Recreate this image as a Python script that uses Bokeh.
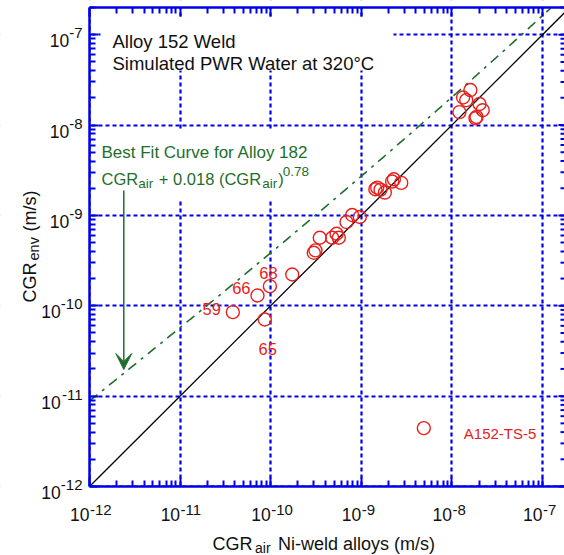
import math
import numpy as np
from bokeh.plotting import figure
from bokeh.models import (LogAxis, FixedTicker, Label, BoxAnnotation, Arrow, VeeHead,
                          Range1d, CustomJSTickFormatter)
from bokeh.embed import file_html
from bokeh.resources import INLINE

# ---------------- data ----------------
cgr_air = [3.82e-11, 8.6e-11, 7.15e-11, 9.8e-11, 1.73e-10, 2.99e-10, 3.12e-10, 3.48e-10,
           4.77e-10, 5.33e-10, 5.65e-10, 6.87e-10, 7.93e-10, 9.63e-10,
           1.43e-9, 1.50e-9, 1.63e-9, 1.82e-9, 2.19e-9, 2.29e-9, 2.76e-9,
           1.21e-8, 1.33e-8, 1.44e-8, 1.60e-8, 2.02e-8, 2.19e-8, 1.82e-8, 1.87e-8,
           4.9e-9]
cgr_env = [8.5e-11, 7.05e-11, 1.30e-10, 1.65e-10, 2.22e-10, 3.86e-10, 4.10e-10, 5.66e-10,
           5.66e-10, 6.27e-10, 5.66e-10, 8.45e-10, 1.01e-9, 9.6e-10,
           1.95e-9, 2.03e-9, 1.93e-9, 1.79e-9, 2.37e-9, 2.51e-9, 2.29e-9,
           1.39e-8, 2.02e-8, 1.89e-8, 2.44e-8, 1.71e-8, 1.46e-8, 1.19e-8, 1.23e-8,
           4.43e-12]
point_labels = ["59", "65", "66", "68", "A152-TS-5"]
label_air = [3.82e-11, 8.6e-11, 7.15e-11, 9.8e-11, 4.9e-9]
label_env = [8.5e-11, 7.05e-11, 1.30e-10, 1.65e-10, 4.43e-12]

tick_exps = [-12, -11, -10, -9, -8, -7]
fit_coef = 0.018
fit_power = 0.78

# ---------------- layout / style ----------------
BLUE = "#0000e8"
RED = "#e8201c"
GREEN = "#1e6e2c"
BLACK = "#111111"
FONT = "Liberation Sans"

W, H = 564, 555
XLO, XHI = 1e-12, 1.75e-7        # axes limits
YLO, YHI = 1e-12, 2e-7
FL, FR, FT, FB = 89, 564, 7, 486  # axes box in canvas pixels

KX = (math.log10(XHI) - math.log10(XLO)) / (FR - FL)
KY = (math.log10(YHI) - math.log10(YLO)) / (FB - FT)

def xd(px):
    return 10 ** (math.log10(XLO) + (px - FL) * KX)

def yd(py):
    return 10 ** (math.log10(YLO) + (FB - py) * KY)

def xp(v):
    return FL + (math.log10(v) - math.log10(XLO)) / KX

def yp(v):
    return FB - (math.log10(v) - math.log10(YLO)) / KY

p = figure(width=W, height=H, x_axis_type="log", y_axis_type="log",
           x_range=Range1d(xd(0), xd(W)), y_range=Range1d(yd(H), yd(0)),
           output_backend="svg", toolbar_location=None,
           min_border_left=0, min_border_right=0, min_border_top=0, min_border_bottom=0)
p.title.visible = False
p.outline_line_color = None
p.background_fill_color = "white"
p.border_fill_color = "white"

decades = [10.0 ** e for e in tick_exps]
minors = [m * 10.0 ** e for e in range(-12, -6) for m in range(2, 10)]

def style_axis(ax, loc, bounds, show_line=True):
    ax.fixed_location = loc
    ax.bounds = bounds
    ax.ticker = FixedTicker(ticks=decades, minor_ticks=minors)
    ax.formatter = CustomJSTickFormatter(code="return '';")
    ax.major_label_text_font_size = "1px"
    ax.major_label_standoff = 0
    ax.axis_label = None
    ax.axis_line_color = BLUE if show_line else None
    ax.axis_line_width = 2.5
    ax.major_tick_line_color = BLUE
    ax.major_tick_line_width = 2
    ax.minor_tick_line_color = BLUE
    ax.minor_tick_line_width = 2
    ax.major_tick_in = 9
    ax.major_tick_out = 0
    ax.minor_tick_in = 6
    ax.minor_tick_out = 0

style_axis(p.below[0], YLO, (XLO, XHI))
style_axis(p.left[0], XLO, (YLO, YHI))
top_ax = LogAxis()
style_axis(top_ax, YHI, (XLO, XHI))
p.add_layout(top_ax, "above")

for g in (p.xgrid[0], p.ygrid[0]):
    g.ticker = FixedTicker(ticks=decades)
    g.grid_line_color = BLUE
    g.grid_line_width = 2.2
    g.grid_line_dash = "4 3"

def white_box(l, r, t, b, level="underlay"):
    p.add_layout(BoxAnnotation(left=l, right=r, top=t, bottom=b, fill_color="white",
                               fill_alpha=1, line_color=None, level=level))

# blank the grid outside the axes box
white_box(xd(-30), xd(W + 30), YLO, yd(H + 30))
white_box(xd(-30), XLO, yd(-30), yd(H + 30))
white_box(xd(-30), xd(W + 30), yd(-30), YHI)
# white backgrounds behind the annotation texts (hide grid)
white_box(xd(100), xd(393), yd(18), yd(70))
white_box(xd(98), xd(312), yd(129), yd(199))
# clean left edge strip
white_box(xd(-30), xd(11), yd(-30), yd(H + 30), level="annotation")

# right-hand inward ticks (the right spine itself lies just outside the picture)
p.segment(x0=[xd(FR - 6)] * len(decades), y0=decades, x1=[XHI] * len(decades), y1=decades,
          line_color=BLUE, line_width=2)
p.segment(x0=[xd(FR - 4)] * len(minors), y0=minors, x1=[XHI] * len(minors), y1=minors,
          line_color=BLUE, line_width=2)

# 1:1 line
p.line([XLO, YHI], [YLO, YHI], line_color="black", line_width=1.3)

# best-fit curve for Alloy 182
fx = np.logspace(-12, math.log10(YHI), 400)
fy = fx + fit_coef * fx ** fit_power
keep = fy <= YHI
p.line(fx[keep], fy[keep], line_color=GREEN, line_width=1.6, line_dash="10 6 3 6")

# data points
p.scatter(cgr_air, cgr_env, size=13, marker="circle", fill_color=None,
          line_color=RED, line_width=1.4)

def lab(x, y, text, size, color=BLACK, align="left", angle=0.0):
    p.add_layout(Label(x=x, y=y, text=text, text_font=FONT, text_font_size=f"{size}px",
                       text_color=color, text_align=align, text_baseline="alphabetic",
                       angle=angle))

# point labels (offsets in pixels from the point)
lab_off = {"59": (-12, -2.7, "right"), "65": (3, 30, "center"),
           "66": (-7, -7.6, "right"), "68": (-1.5, -13.3, "center"),
           "A152-TS-5": (40, 5, "left")}
for t, ax_, ay_ in zip(point_labels, label_air, label_env):
    dx, dy, al = lab_off[t]
    lab(xd(xp(ax_) + dx), yd(yp(ay_) + dy), t, 15 if len(t) > 3 else 16.5, RED, al)

# tick labels
EXPF = 15
for e in tick_exps:
    es = str(e)
    wexp = EXPF * (0.333 + 0.556 * (len(es) - 1))
    ty = yp(10.0 ** e)
    lab(xd(82 - wexp), yd(ty + 6), "10", 17.5, align="right")
    lab(xd(82), yd(ty - 1.5), es, EXPF, align="right")
    tx = xp(10.0 ** e)
    lab(10.0 ** e, yd(514), "10", 17.5, align="right")
    lab(xd(tx + 0.5), yd(509.5), es, EXPF, align="left")

# title block
lab(xd(112), yd(40.7), "Alloy 152 Weld", 18.5)
lab(xd(112), yd(63.3), "Simulated PWR Water at 320\u00b0C", 18.5)

# best fit text
lab(xd(101), yd(151.7), "Best Fit Curve for Alloy 182", 17, GREEN)
lab(xd(101), yd(178.3), "CGR", 16.5, GREEN)
lab(xd(137.7), yd(183.3), "air", 13.5, GREEN)
lab(xd(158.3), yd(178.3), "+ 0.018 (CGR", 16.5, GREEN)
lab(xd(261.7), yd(183.3), "air", 13.5, GREEN)
lab(xd(277.7), yd(178.3), ")", 16.5, GREEN)
lab(xd(282.3), yd(170.7), "0.78", 13.5, GREEN)

p.add_layout(Arrow(end=VeeHead(size=16, fill_color=GREEN, line_color=GREEN, line_width=1),
                   x_start=xd(123.3), y_start=yd(190), x_end=xd(123.3), y_end=yd(369),
                   line_color=GREEN, line_width=1.5))

# axis titles
lab(xd(212), yd(543), "CGR", 18)
lab(xd(254.5), yd(547), "air", 14)
lab(xd(277.5), yd(543), "Ni-weld alloys (m/s)", 18)

lab(xd(29.5), yd(302), "CGR", 18, angle=math.pi / 2)
lab(xd(33.5), yd(260), "env", 14.5, angle=math.pi / 2)
lab(xd(29.5), yd(231), "(m/s)", 18, angle=math.pi / 2)

open("out.html", "w").write(file_html(p, INLINE))
